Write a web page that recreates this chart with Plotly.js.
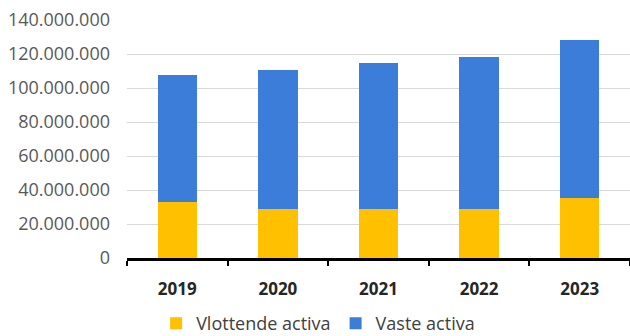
<!DOCTYPE html>
<html>
<head>
<meta charset="utf-8">
<script src="https://cdn.plot.ly/plotly-3.0.1.min.js"></script>
<style>html,body{margin:0;padding:0;background:#fff;}#chart{width:630px;height:336px;}</style>
</head>
<body>
<div id="chart"></div>
<script>
const years = ['2019', '2020', '2021', '2022', '2023'];
const vlottendeActiva = [33100000, 29000000, 29000000, 29000000, 35500000];
const vasteActiva = [74600000, 81600000, 85800000, 89300000, 92900000];
const yTickValues = [0, 20000000, 40000000, 60000000, 80000000, 100000000, 120000000, 140000000];

const traces = [
  {type: 'bar', name: 'Vlottende activa', x: years, y: vlottendeActiva, marker: {color: '#FFC000'}, hoverinfo: 'skip'},
  {type: 'bar', name: 'Vaste activa', x: years, y: vasteActiva, marker: {color: '#3B7DD8'}, hoverinfo: 'skip'}
];

const layout = {
  width: 630, height: 336,
  margin: {l: 127, r: 0, t: 20, b: 78, autoexpand: false},
  paper_bgcolor: '#ffffff', plot_bgcolor: '#ffffff',
  barmode: 'stack', bargap: 0.61,
  separators: ',.',
  showlegend: true,
  legend: {orientation: 'h', x: 0.38, xanchor: 'center', y: -0.275, yanchor: 'middle',
           font: {family: 'Open Sans', size: 18, color: '#404040'}, itemwidth: 30, traceorder: 'normal'},
  xaxis: {type: 'category', showline: true, linecolor: '#000000', linewidth: 2.5,
          ticks: 'outside', tickson: 'boundaries', ticklen: 5, tickwidth: 2, tickcolor: '#000000',
          ticklabelstandoff: 14,
          tickfont: {family: 'Open Sans', size: 17, color: '#262626', weight: 'bold'}, showgrid: false, zeroline: false},
  yaxis: {range: [0, 140000000], tickvals: yTickValues, tickformat: ',d',
          showgrid: true, gridcolor: '#d9d9d9', gridwidth: 1, zeroline: false, showline: false,
          ticks: '', ticklabelstandoff: 16,
          tickfont: {family: 'Open Sans', size: 18, color: '#595959'}}
};

Plotly.newPlot('chart', traces, layout, {displayModeBar: false, staticPlot: true});
</script>
</body>
</html>
